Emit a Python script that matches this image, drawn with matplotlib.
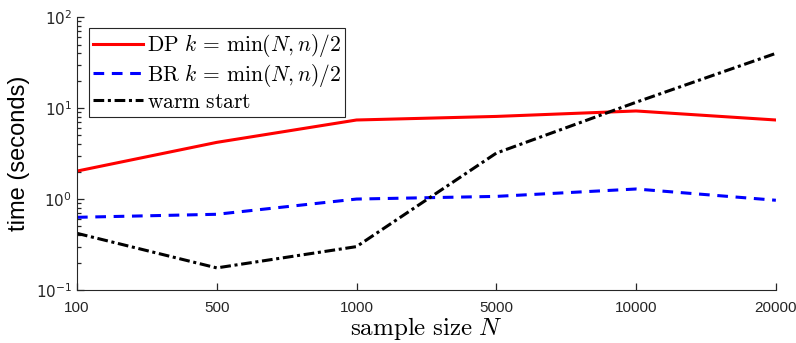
import matplotlib.pyplot as plt
import numpy as np
from matplotlib.ticker import LogLocator, NullFormatter

plt.rcParams['mathtext.fontset'] = 'cm'
plt.rcParams['font.family'] = ['Liberation Sans', 'DejaVu Sans']

# data
sizes = ['100', '500', '1000', '5000', '10000', '20000']
dp_time = [2.03, 4.2, 7.4, 8.1, 9.3, 7.4]
br_time = [0.63, 0.68, 1.0, 1.07, 1.29, 0.97]
warm_time = [0.42, 0.175, 0.30, 3.2, 11.6, 40]

pos = np.arange(len(sizes))

fig = plt.figure(figsize=(7.96, 3.43), dpi=100)
ax = fig.add_axes([0.0967, 0.1545, 0.878, 0.7955])

ax.plot(pos, dp_time, color='red', lw=2.2, label=r'$\mathrm{DP}\ k\,=\,\min(N,n)/2$')
ax.plot(pos, br_time, color='blue', lw=2.2, ls=(0, (3.5, 2.5)), label=r'$\mathrm{BR}\ k\,=\,\min(N,n)/2$')
ax.plot(pos, warm_time, color='black', lw=2.2, ls=(0, (3.5, 1.2, 1, 1.2)), label=r'$\mathrm{warm\ start}$')

ax.set_yscale('log')
ax.set_ylim(0.1, 100)
ax.set_xlim(pos[0], pos[-1])
ax.set_xticks(pos)
ax.set_xticklabels(sizes)
ax.set_yticks([0.1, 1, 10, 100])
ylabs = ax.set_yticklabels([r'$10^{-1}$', r'$10^{0}$', r'$10^{1}$', r'$10^{2}$'])
for t in ylabs:
    t.set_math_fontfamily('dejavusans')
ax.yaxis.set_minor_locator(LogLocator(base=10, subs=np.arange(2, 10), numticks=20))
ax.yaxis.set_minor_formatter(NullFormatter())
ax.xaxis.set_minor_locator(plt.NullLocator())

gray = '#262626'
for s in ['top', 'right']:
    ax.spines[s].set_visible(False)
for s in ['left', 'bottom']:
    ax.spines[s].set_color(gray)
    ax.spines[s].set_linewidth(0.8)
ax.tick_params(which='both', direction='in', color=gray, labelcolor=gray, labelsize=11, width=0.9,
               left=True, bottom=True, right=False, top=False)
ax.tick_params(which='major', length=5)
ax.tick_params(which='minor', length=3)
ax.tick_params(axis='x', pad=8)

ax.set_xlabel(r'$\mathrm{sample\ size}\ N$', fontsize=18, labelpad=0)
ax.set_ylabel('time (seconds)', fontsize=17, labelpad=4)

leg = ax.legend(loc='upper left', bbox_to_anchor=(0.017, 0.96), fontsize=15.5,
                frameon=True, fancybox=False, framealpha=1, edgecolor=gray,
                handlelength=2.3, handletextpad=0.2, borderpad=0.2, labelspacing=0.12,
                borderaxespad=0)
leg.get_frame().set_linewidth(0.8)

fig.savefig('out.png', dpi=100)
